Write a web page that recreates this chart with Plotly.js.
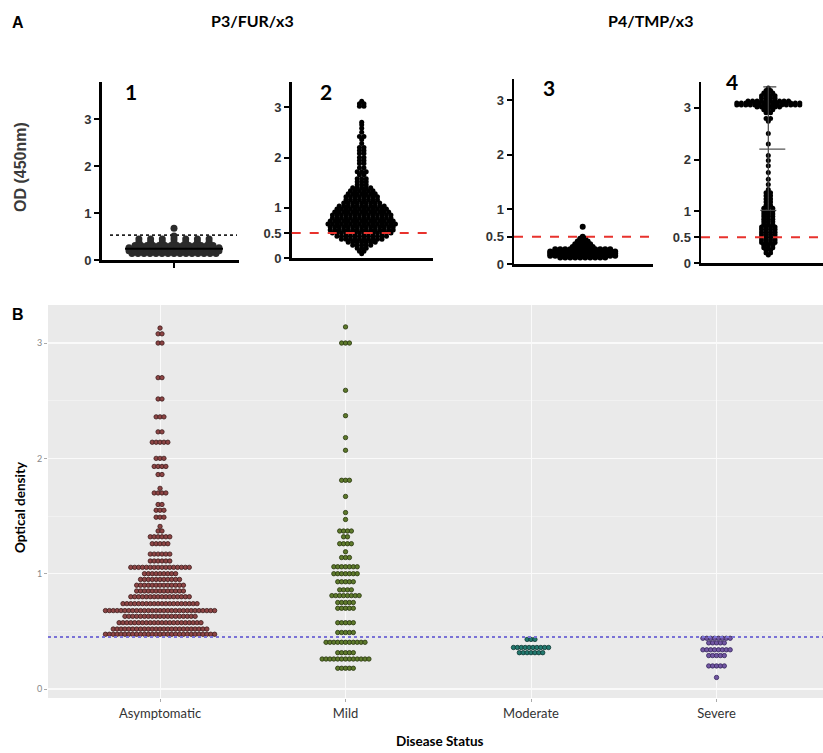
<!DOCTYPE html>
<html><head><meta charset="utf-8">
<script src="https://cdn.plot.ly/plotly-3.0.1.min.js"></script>
<style>html,body{margin:0;padding:0;background:#fff}#chart{width:823px;height:753px}</style>
</head><body><div id="chart"></div>
<script>
// ---------- DATA ----------
// Panel A (rows of dots: value, count)
const a1Y = [0.14, 0.20, 0.26, 0.31, 0.38, 0.45, 0.51, 0.68];
const a1N = [15, 16, 16, 14, 7, 7, 1, 1];
const a1Mean = 0.24;
const a1Cutoff = 0.53;

const a2Y = [3.12,3.07,3.02,2.70,2.65,2.58,2.50,2.42,2.36,2.28,2.20,2.14,2.08,2.00,1.94,1.88,1.80,1.72,1.66,1.58,1.52,1.46,1.40,1.34,1.28,1.22,1.16,1.10,1.04,0.98,0.92,0.86,0.80,0.74,0.68,0.62,0.56,0.50,0.44,0.38,0.32,0.26,0.20,0.14,0.09];
const a2N = [1,2,2,1,1,1,1,2,1,1,2,2,2,2,2,2,2,3,2,3,3,3,5,6,7,8,8,9,11,12,13,14,14,15,16,15,15,14,12,10,7,5,3,2,1];
const a2Cutoff = 0.5;

const a3Y = [0.68,0.50,0.46,0.41,0.36,0.31,0.27,0.23,0.19,0.15,0.12];
const a3N = [1,1,2,3,4,5,12,14,14,14,10];
const a3Cutoff = 0.5;

const a4Y = [3.38,3.33,3.28,3.23,3.18,3.13,3.09,3.05,3.01,2.96,2.90,2.79,2.74,2.50,2.30,2.08,1.98,1.88,1.75,1.62,1.52,1.42,1.36,1.30,1.24,1.18,1.12,1.06,1.00,0.95,0.90,0.85,0.80,0.75,0.70,0.65,0.60,0.55,0.50,0.45,0.40,0.35,0.30,0.25,0.20,0.16];
const a4N = [1,2,3,4,4,10,15,15,6,3,2,2,1,1,1,1,1,1,1,1,1,1,2,2,2,2,2,3,3,3,3,3,3,3,4,4,4,4,4,4,4,3,3,2,2,1];
const a4Mean = 2.2, a4SdLo = 1.02, a4SdHi = 3.4;
const a4Cutoff = 0.5;

const yTicksA1 = [0, 1, 2, 3];
const yTicksA = [0, 0.5, 1, 2, 3];

// Panel B
const categories = ['Asymptomatic', 'Mild', 'Moderate', 'Severe'];
const asymY = [3.13,3.08,3.00,2.70,2.515,2.36,2.23,2.14,2.00,1.93,1.86,1.74,1.70,1.60,1.55,1.49,1.41,1.37,1.32,1.26,1.17,1.11,1.055,1.00,0.95,0.90,0.85,0.80,0.74,0.68,0.63,0.575,0.52,0.475];
const asymN = [1,2,2,2,2,3,2,5,3,4,2,1,4,2,3,3,1,2,6,5,6,6,16,9,11,13,13,16,20,29,19,22,25,29];
const mildY = [3.14,3.00,2.59,2.37,2.18,2.07,1.81,1.67,1.53,1.47,1.37,1.32,1.26,1.19,1.14,1.06,1.00,0.93,0.86,0.81,0.75,0.70,0.575,0.49,0.405,0.315,0.26,0.18];
const mildN = [1,3,1,1,1,1,3,1,1,1,4,2,4,1,3,7,7,5,4,8,5,5,5,5,11,5,13,5];
const modY = [0.43, 0.36, 0.315];
const modN = [3, 10, 7];
const sevY = [0.44, 0.40, 0.34, 0.29, 0.20, 0.10];
const sevN = [8, 5, 8, 5, 5, 1];
const bCutoff = 0.45;
const yTicksB = [0, 1, 2, 3];

// ---------- STYLE / LAYOUT CONSTANTS ----------
const W = 823, H = 753;
const a1Pitch = [6,6,6,6,11.7,11.7,6,6];
const pxPerCatB = 185.5;
const pitchB = 3.9;

function px(x, y) { return { x: x / W, y: 1 - y / H }; }
function swarm(ys, ns, pitch, center, scale) {
  const X = [], Y = [];
  ys.forEach((v, r) => {
    const n = ns[r];
    const p = Array.isArray(pitch) ? pitch[r] : pitch;
    for (let i = 0; i < n; i++) {
      X.push(center + (i - (n - 1) / 2) * p / scale);
      Y.push(v);
    }
  });
  return { x: X, y: Y };
}

const traces = [];
function addA(ys, ns, pitch, ax, size, color) {
  const s = swarm(ys, ns, pitch, 0, 1);
  traces.push({ type: 'scatter', mode: 'markers', x: s.x, y: s.y, xaxis: 'x' + ax, yaxis: 'y' + ax,
    marker: { size: size, color: color, line: { width: 0 } }, hoverinfo: 'y', showlegend: false, cliponaxis: false });
}
addA(a1Y, a1N, a1Pitch, '', 7, '#2b2b2b');
addA(a2Y, a2N, 4.5, '2', 5, '#000');
addA(a3Y, a3N, 5, '3', 6, '#000');
addA(a4Y, a4N, 4.5, '4', 5, '#000');

const bFill = ['#8e4545', '#5e7a2c', '#22796f', '#7357a3'];
const bLine = ['#3b1a1a', '#27350e', '#0c3531', '#33245a'];
[[asymY, asymN], [mildY, mildN], [modY, modN], [sevY, sevN]].forEach((d, k) => {
  const s = swarm(d[0], d[1], pitchB, k, pxPerCatB);
  traces.push({ type: 'scatter', mode: 'markers', x: s.x, y: s.y, xaxis: 'x5', yaxis: 'y5', name: categories[k],
    marker: { size: 4.4, color: bFill[k], line: { width: 0.8, color: bLine[k] } }, showlegend: false });
});

// axis helpers
const tickFontA = { family: 'Liberation Sans, Arial, sans-serif', size: 13, color: '#333', weight: 'bold' };
function yAxisA(domain, range, ticks) {
  return { domain: domain, range: range, showline: true, linewidth: 2.5, linecolor: '#000', showgrid: false, zeroline: false,
    ticks: 'outside', ticklen: 5, tickwidth: 2, tickcolor: '#000', tickvals: ticks, ticktext: ticks.map(String),
    tickfont: tickFontA, fixedrange: true };
}
function xAxisA(domain, range, anchor, showTick) {
  return { domain: domain, range: range, anchor: anchor, showline: true, linewidth: 2.5, linecolor: '#000', showgrid: false,
    zeroline: false, showticklabels: false, ticks: showTick ? 'outside' : '', tickvals: [0], ticklen: 5, tickwidth: 1.5, tickcolor: '#000', fixedrange: true };
}

const layout = {
  width: W, height: H, margin: { l: 0, r: 0, t: 0, b: 0 }, paper_bgcolor: '#fff', plot_bgcolor: 'rgba(0,0,0,0)',
  showlegend: false,
  xaxis: xAxisA([101.7 / W, 239 / W], [-72.3, 65], 'y', true),
  yaxis: yAxisA([1 - 260 / H, 1 - 82 / H], [0, 3.8], yTicksA1),
  xaxis2: xAxisA([291.7 / W, 433 / W], [-70, 71.3], 'y2', false),
  yaxis2: Object.assign(yAxisA([1 - 258.3 / H, 1 - 82 / H], [0, 3.5], yTicksA), { anchor: 'x2' }),
  xaxis3: xAxisA([514 / W, 652.7 / W], [-68.7, 70], 'y3', false),
  yaxis3: Object.assign(yAxisA([1 - 264 / H, 1 - 79.3 / H], [0, 3.38], yTicksA), { anchor: 'x3' }),
  xaxis4: xAxisA([701 / W, 1], [-67.3, 54.7], 'y4', false),
  yaxis4: Object.assign(yAxisA([1 - 263.3 / H, 1 - 81.7 / H], [0, 3.5], yTicksA), { anchor: 'x4' }),
  xaxis5: { domain: [48 / W, 1], range: [-0.604, 3.574], anchor: 'y5', tickvals: [0, 1, 2, 3], ticktext: categories,
    showgrid: true, gridcolor: '#fafafa', gridwidth: 1, zeroline: false, showline: false, ticks: 'outside', ticklen: 3, tickcolor: '#aaa',
    tickfont: { family: 'Lato, sans-serif', size: 13, color: '#333' }, fixedrange: true },
  yaxis5: { domain: [1 - 698 / H, 1 - 305 / H], range: [-0.078, 3.33], anchor: 'x5', tickvals: yTicksB, ticktext: yTicksB.map(String),
    showgrid: true, gridcolor: '#fafafa', gridwidth: 1.1, zeroline: false, showline: false, ticks: 'outside', ticklen: 3, tickcolor: '#aaa',
    tickfont: { family: 'Lato, sans-serif', size: 9, color: '#888' },
    minor: { tickvals: [0.5, 1.5, 2.5], showgrid: true, gridcolor: '#f3f3f3', gridwidth: 0.8 }, fixedrange: true },
  shapes: [
    { type: 'rect', xref: 'x5 domain', yref: 'y5 domain', x0: 0, x1: 1, y0: 0, y1: 1, fillcolor: '#eaeaea', line: { width: 0 }, layer: 'below' },
    { type: 'line', xref: 'x5 domain', yref: 'y5', x0: 0, x1: 1, y0: bCutoff, y1: bCutoff, line: { color: '#7a72d6', width: 2, dash: 'dot' } },
    { type: 'line', xref: 'x', yref: 'y', x0: -64, x1: 63, y0: a1Cutoff, y1: a1Cutoff, line: { color: '#222', width: 1.8, dash: 'dot' } },
    { type: 'line', xref: 'x', yref: 'y', x0: -49, x1: 49, y0: a1Mean, y1: a1Mean, line: { color: '#000', width: 2 } },
    { type: 'line', xref: 'x2 domain', yref: 'y2', x0: 0, x1: 1, y0: a2Cutoff, y1: a2Cutoff, line: { color: '#e8322d', width: 2, dash: 'dash' } },
    { type: 'line', xref: 'x3 domain', yref: 'y3', x0: 0, x1: 1, y0: a3Cutoff, y1: a3Cutoff, line: { color: '#e8322d', width: 2, dash: 'dash' } },
    { type: 'line', xref: 'x4 domain', yref: 'y4', x0: 0, x1: 1, y0: a4Cutoff, y1: a4Cutoff, line: { color: '#e8322d', width: 2, dash: 'dash' } },
    { type: 'line', xref: 'x4', yref: 'y4', x0: 0, x1: 0, y0: a4SdLo, y1: a4SdHi, line: { color: '#444', width: 1.2 } },
    { type: 'line', xref: 'x4', yref: 'y4', x0: -5, x1: 8, y0: a4SdHi, y1: a4SdHi, line: { color: '#444', width: 1.2 } },
    { type: 'line', xref: 'x4', yref: 'y4', x0: -8, x1: 8, y0: a4SdLo, y1: a4SdLo, line: { color: '#444', width: 1.2 } },
    { type: 'line', xref: 'x4', yref: 'y4', x0: -9, x1: 17, y0: a4Mean, y1: a4Mean, line: { color: '#555', width: 1.2 } }
  ],
  annotations: []
};

function ann(text, x, y, font, extra) {
  const p = px(x, y);
  layout.annotations.push(Object.assign({ text: text, xref: 'paper', yref: 'paper', x: p.x, y: p.y, xanchor: 'center', yanchor: 'middle',
    showarrow: false, font: font }, extra || {}));
}
const lab = { family: 'Liberation Sans, Arial, sans-serif', size: 16, color: '#000', weight: 'bold' };
const ttl = { family: 'Lato, sans-serif', size: 16, color: '#000', weight: 'bold' };
const num = { family: 'Lato, sans-serif', size: 21, color: '#000', weight: 'bold' };
ann('A', 18, 23, lab);
ann('B', 18, 314, lab);
ann('P3/FUR/x3', 252, 21, ttl);
ann('P4/TMP/x3', 650, 21, ttl);
ann('1', 131, 91, num);
ann('2', 326, 91, num);
ann('3', 549, 87, num);
ann('4', 732, 81, num);
ann('OD (450nm)', 20, 167, { family: 'Liberation Sans, Arial, sans-serif', size: 16, color: '#3a3a3a', weight: 'bold' }, { textangle: -90 });
ann('Optical density', 20, 507, { family: 'Lato, sans-serif', size: 13.5, color: '#000', weight: 'bold' }, { textangle: -90 });
ann('Disease Status', 440, 741, { family: 'Lato, sans-serif', size: 13.5, color: '#000', weight: 'bold' });

Plotly.newPlot('chart', traces, layout, { staticPlot: true, displayModeBar: false });
</script></body></html>
